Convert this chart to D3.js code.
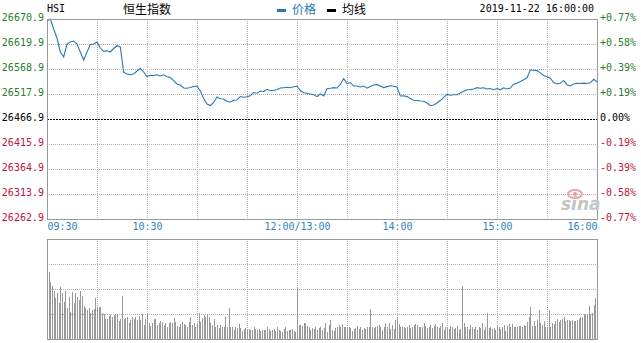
<!DOCTYPE html>
<html>
<head>
<meta charset="utf-8">
<script src="https://cdn.jsdelivr.net/npm/d3@7"></script>
<style>
    body { margin: 0; background: #fff; }
    svg text { font-family: "DejaVu Sans Mono", monospace; font-size: 10px; }
    .cjk { font-family: "Noto Sans CJK SC", sans-serif; font-size: 12px; }
</style>
</head>
<body>
<svg id="chart" width="641" height="343"></svg>
<script>
(function () {

    /* data */
    var basePrice = 26466.9;  // previous close
    var priceTicks = [26670.9, 26619.9, 26568.9, 26517.9, 26466.9, 26415.9, 26364.9, 26313.9, 26262.9];
    var pctLabels = ["+0.77%", "+0.58%", "+0.39%", "+0.19%", "0.00%", "-0.19%", "-0.39%", "-0.58%", "-0.77%"];
    var timeLabels = ["09:30", "10:30", "12:00/13:00", "14:00", "15:00", "16:00"];
    var timeTicks = [0, 60, 150, 210, 270, 330];   // trading minutes since 09:30 (lunch removed)
    var gridMinutes = [30, 60, 90, 120, 150, 180, 210, 240, 270, 300];

    var priceStep = 2; // minutes between price samples
    var prices = [
        26666.8, 26670.9, 26650.5, 26632.1, 26603.6, 26593.4, 26619.9, 26624.0, 26626.0, 26619.9,
        26603.6, 26587.3, 26603.6, 26618.9, 26619.9, 26624.0, 26611.7, 26605.0, 26606.2, 26603.6,
        26610.7, 26616.4, 26613.8, 26561.8, 26558.7, 26557.1, 26558.7, 26564.8, 26569.9, 26562.8,
        26553.6, 26556.0, 26555.6, 26557.1, 26554.6, 26557.1, 26553.0, 26551.6, 26545.4, 26538.3,
        26536.3, 26530.1, 26529.7, 26531.0, 26533.2, 26534.2, 26524.0, 26508.7, 26497.5, 26494.4,
        26500.6, 26511.8, 26508.1, 26507.7, 26502.6, 26501.6, 26505.0, 26505.7, 26512.8, 26511.4,
        26512.4, 26514.4, 26521.0, 26519.5, 26524.0, 26523.0, 26527.1, 26525.0, 26525.0, 26527.1,
        26530.1, 26530.8, 26531.6, 26530.8, 26532.8, 26534.2, 26525.0, 26520.6, 26519.3, 26517.9,
        26516.5, 26512.4, 26517.9, 26513.8, 26528.5, 26529.5, 26530.8, 26530.1, 26537.3, 26549.5,
        26539.1, 26541.2, 26534.2, 26534.2, 26532.2, 26534.2, 26529.7, 26533.2, 26536.3, 26537.5,
        26534.4, 26531.0, 26533.0, 26534.6, 26533.6, 26532.2, 26513.8, 26514.4, 26512.6, 26508.7,
        26505.3, 26504.8, 26503.6, 26503.2, 26499.5, 26494.0, 26495.3, 26499.5, 26504.6, 26511.2,
        26517.1, 26515.5, 26516.3, 26516.5, 26519.9, 26523.4, 26526.5, 26526.9, 26528.1, 26530.8,
        26529.5, 26530.5, 26528.1, 26529.1, 26526.5, 26529.1, 26526.5, 26530.5, 26528.1, 26530.1,
        26537.9, 26539.9, 26543.4, 26546.9, 26550.9, 26566.9, 26566.5, 26565.6, 26561.1, 26555.8,
        26553.0, 26550.1, 26541.2, 26538.9, 26539.7, 26545.6, 26536.9, 26534.2, 26538.3, 26539.7,
        26539.3, 26540.1, 26539.3, 26540.7, 26547.9, 26543.0
    ];

    // minute volumes, 09:31 .. 16:00 (relative units)
    var volumes = [
        67, 57, 53, 48, 41, 46, 36, 52, 46, 37,
        48, 31, 42, 27, 47, 36, 46, 42, 39, 48,
        43, 33, 31, 29, 31, 26, 29, 30, 41, 32,
        32, 32, 26, 25, 20, 20, 23, 24, 22, 24,
        25, 24, 18, 20, 43, 20, 21, 22, 16, 19,
        22, 20, 22, 19, 23, 19, 25, 14, 20, 26,
        16, 13, 16, 20, 20, 14, 16, 18, 17, 14,
        16, 12, 16, 17, 16, 21, 17, 13, 12, 15,
        17, 15, 14, 12, 17, 22, 14, 16, 12, 16,
        26, 17, 21, 24, 22, 24, 22, 16, 14, 20,
        12, 14, 11, 14, 12, 12, 22, 12, 31, 12,
        12, 9, 12, 11, 15, 11, 8, 10, 11, 9,
        10, 9, 9, 12, 10, 9, 10, 8, 9, 9,
        9, 12, 10, 8, 9, 10, 8, 12, 9, 8,
        7, 10, 12, 8, 9, 9, 10, 8, 7, 52,
        14, 14, 13, 16, 16, 13, 12, 9, 11, 10,
        12, 9, 11,
        12, 9, 11, 16, 7, 14, 19, 9, 8, 11,
        12, 14, 12, 15, 12, 12, 11, 12, 11, 8,
        10, 11, 13, 10, 12, 9, 11, 10, 12, 12,
        30, 12, 11, 12, 13, 14, 12, 9, 12, 16,
        12, 16, 10, 14, 10, 19, 22, 15, 12, 12,
        12, 11, 12, 14, 11, 12, 14, 15, 14, 12,
        12, 12, 16, 13, 11, 12, 14, 11, 13, 15,
        12, 11, 13, 16, 9, 12, 12, 10, 13, 12,
        10, 11, 13, 9, 10, 53, 16, 12, 12, 10,
        14, 12, 10, 12, 9, 12, 11, 16, 9, 12,
        26, 11, 12, 10, 11, 9, 13, 12, 10, 12,
        14, 8, 13, 15, 12, 15, 12, 12, 12,
        13, 13, 12, 14, 13, 17, 22, 32, 13, 18,
        13, 19, 29, 16, 14, 18, 12, 12, 29, 12,
        16, 15, 18, 20, 17, 19, 20, 22, 18, 19,
        19, 18, 19, 18, 18, 19, 20, 22, 22, 25,
        24, 25, 33, 25, 26, 34, 41, 37
    ];
    var volTicks = [25, 50, 75];

    /* colours */
    var up = "#2a7d2a", down = "#c0143c", lineColor = "#2a78b5", gridColor = "#b0b0b0", frame = "#999";

    var svg = d3.select("#chart");

    var x = d3.scaleLinear().domain([0, 330]).range([47, 597]);
    var y = d3.scaleLinear().domain([26262.9, 26670.9]).range([219, 19]);
    var yVol = d3.scaleLinear().domain([0, 100]).range([339, 239]);

    function px(v) { return Math.round(v) + 0.5; }

    /* grids */
    var grid = svg.append("g").attr("stroke", gridColor).attr("stroke-dasharray", "1,1");
    grid.selectAll(".vg").data(gridMinutes).enter().append("line")
        .attr("x1", function (d) { return px(x(d)); }).attr("x2", function (d) { return px(x(d)); })
        .attr("y1", 19).attr("y2", 219);
    grid.selectAll(".vg2").data(gridMinutes).enter().append("line")
        .attr("x1", function (d) { return px(x(d)); }).attr("x2", function (d) { return px(x(d)); })
        .attr("y1", 239).attr("y2", 339);
    grid.selectAll(".hg").data(priceTicks.slice(1, -1).filter(function (d) { return d !== basePrice; }))
        .enter().append("line")
        .attr("x1", 47).attr("x2", 597)
        .attr("y1", function (d) { return px(y(d)); }).attr("y2", function (d) { return px(y(d)); });
    grid.selectAll(".hv").data(volTicks).enter().append("line")
        .attr("x1", 47).attr("x2", 597)
        .attr("y1", function (d) { return px(yVol(d)); }).attr("y2", function (d) { return px(yVol(d)); });

    // previous close line
    svg.append("line")
        .attr("x1", 47).attr("x2", 597)
        .attr("y1", px(y(basePrice))).attr("y2", px(y(basePrice)))
        .attr("stroke", "#000").attr("stroke-dasharray", "2,1");

    /* volume bars */
    svg.append("g").selectAll("rect").data(volumes).enter().append("rect")
        .attr("x", function (d, i) { return Math.round(x(i + 1)); })
        .attr("width", 1)
        .attr("y", function (d) { return Math.round(yVol(d)); })
        .attr("height", function (d) { return 339 - Math.round(yVol(d)); })
        .attr("fill", "#999");

    /* price line */
    var line = d3.line()
        .x(function (d, i) { return x(i * priceStep); })
        .y(function (d) { return y(d); });
    svg.append("path").datum(prices)
        .attr("d", line)
        .attr("fill", "none")
        .attr("stroke", lineColor)
        .attr("stroke-width", 1.1);

    /* frames */
    svg.append("rect").attr("x", 47.5).attr("y", 19.5).attr("width", 550).attr("height", 200)
        .attr("fill", "none").attr("stroke", frame);
    svg.append("rect").attr("x", 47.5).attr("y", 239.5).attr("width", 550).attr("height", 100)
        .attr("fill", "none").attr("stroke", frame);

    /* axes */
    var left = svg.append("g").attr("transform", "translate(47,0)")
        .call(d3.axisLeft(y).tickValues(priceTicks).tickSize(0).tickPadding(3).tickFormat(d3.format(".1f")));
    left.select(".domain").remove();
    left.selectAll("text")
        .attr("dy", "0.15em")
        .attr("fill", function (d) { return d > basePrice ? up : d < basePrice ? down : "#000"; });

    var right = svg.append("g").attr("transform", "translate(597,0)")
        .call(d3.axisRight(y).tickValues(priceTicks).tickSize(0).tickPadding(3)
            .tickFormat(function (d, i) { return pctLabels[i]; }));
    right.select(".domain").remove();
    right.selectAll("text")
        .attr("dy", "0.15em")
        .attr("fill", function (d) { return d > basePrice ? up : d < basePrice ? down : "#000"; });

    var bottom = svg.append("g").attr("transform", "translate(0,219)")
        .call(d3.axisBottom(x).tickValues(timeTicks).tickSize(0).tickPadding(4)
            .tickFormat(function (d, i) { return timeLabels[i]; }));
    bottom.select(".domain").remove();
    bottom.selectAll("text")
        .attr("fill", "#2f84bb")
        .attr("text-anchor", function (d, i) {
            return i === 0 ? "start" : i === timeTicks.length - 1 ? "end" : "middle";
        });
    svg.selectAll(".tick text").style("font-family", "DejaVu Sans Mono").style("font-size", "10px");

    /* header */
    svg.append("text").attr("x", 47).attr("y", 12).text("HSI");
    svg.append("text").attr("class", "cjk").attr("x", 123).attr("y", 14).text("恒生指数");
    svg.append("rect").attr("x", 277).attr("y", 9).attr("width", 9).attr("height", 3).attr("fill", lineColor);
    svg.append("text").attr("class", "cjk").attr("x", 292).attr("y", 14).attr("fill", lineColor).text("价格");
    svg.append("rect").attr("x", 327).attr("y", 9).attr("width", 9).attr("height", 3).attr("fill", "#000");
    svg.append("text").attr("class", "cjk").attr("x", 342).attr("y", 14).text("均线");
    svg.append("text").attr("x", 594).attr("y", 12).attr("text-anchor", "end").text("2019-11-22 16:00:00");

    /* sina watermark */
    svg.append("ellipse").attr("cx", 575).attr("cy", 194).attr("rx", 7).attr("ry", 4)
        .attr("fill", "none").attr("stroke", "#eaa6a6").attr("stroke-width", 2);
    svg.append("circle").attr("cx", 575).attr("cy", 194).attr("r", 2).attr("fill", "#e49a9a");
    svg.append("text").attr("x", 561).attr("y", 210)
        .style("font-family", "DejaVu Sans").style("font-size", "17px")
        .style("font-style", "italic").style("font-weight", "bold")
        .attr("fill", "#c4c4c4").text("sina");
})();
</script>
</body>
</html>
